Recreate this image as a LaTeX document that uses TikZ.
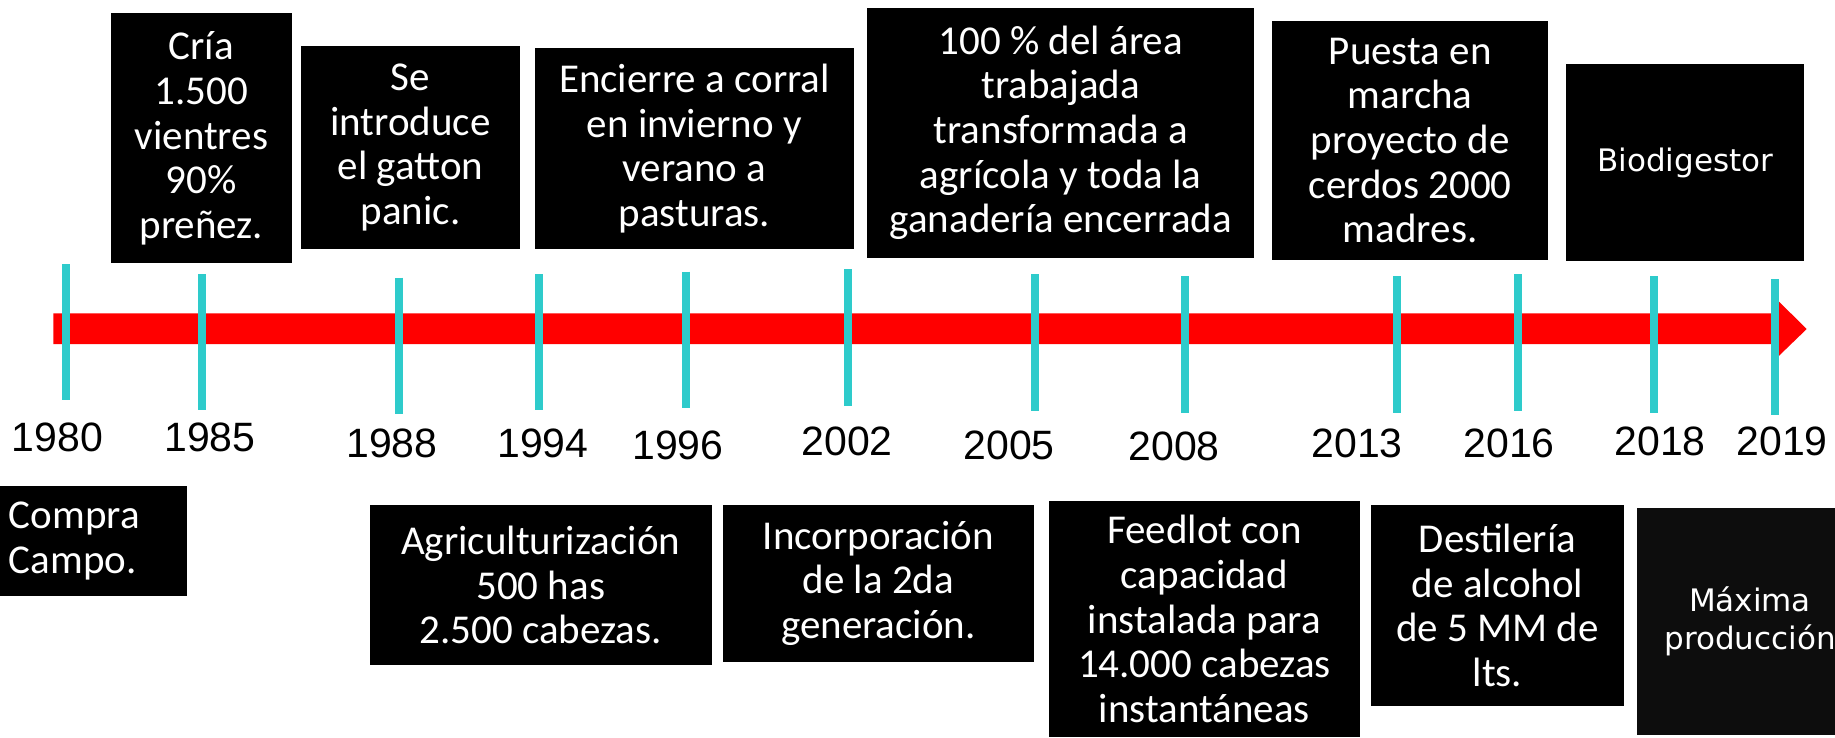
\documentclass[tikz,border=0pt]{standalone}
\usepackage{fontspec}
\setmainfont{Liberation Sans}
\newfontfamily\boxfont{Carlito}
\newfontfamily\verdfont{DejaVu Sans}
\definecolor{tickcyan}{RGB}{46,203,203}
\definecolor{softblack}{RGB}{13,13,13}
\tikzset{
  evbox/.style={fill=black, text=white, align=center, inner sep=0pt, font=\boxfont\fontsize{41}{44.6}\selectfont},
  vbox/.style={evbox, font=\verdfont\fontsize{31}{38}\selectfont},
  yearmark/.style={draw=tickcyan, line width=8pt},
  yearlbl/.style={anchor=base, inner sep=0pt, font=\fontsize{41}{48}\selectfont}
}
\begin{document}
\begin{tikzpicture}[x=1pt,y=-1pt]
\useasboundingbox (0,0) rectangle (1835,737);
\clip (0,0) rectangle (1835,737);
\fill[red] (53.4,313.3) -- (1778,313.3) -- (1778,300.7) -- (1806.7,329) -- (1778,356.7) -- (1778,344) -- (53.4,344) -- cycle;
\foreach \yr/\tx/\ta/\tb/\lx/\ly in {1980/66.4/264/400/57.5/451.7, 1985/202.4/274/410/210/451.7,
    1988/399/277.7/414/392/457.3, 1994/539/274/410/543/457, 1996/685.8/271.7/408/678/459,
    2002/848.3/269/405.7/847/455.7, 2005/1035/274.3/411/1009/459, 2008/1184.8/276/413/1174/460,
    2013/1396.8/276/413/1357/457, 2016/1518/274/411/1509/457, 2018/1654/276/413/1660/455,
    2019/1774.7/279/415/1782/455}{
  \draw[yearmark] (\tx,\ta) -- (\tx,\tb);
  \node[yearlbl] (y\yr) at (\lx,\ly) {\yr};
}
\node[evbox, minimum width=180.8pt, minimum height=250pt] (cria) at (201.4,138.3) {Cría\\1.500\\vientres\\90\%\\preñez.};
\node[evbox, minimum width=219pt, minimum height=202.7pt] (gatton) at (410.5,147.4) {Se\\introduce\\el gatton\\panic.};
\node[evbox, minimum width=318.7pt, minimum height=200.4pt] (corral) at (694.4,148.5) {Encierre a corral\\en invierno y\\verano a\\pasturas.};
\node[evbox, minimum width=386.6pt, minimum height=250.5pt] (area) at (1060.7,132.8) {100 \% del área\\trabajada\\transformada a\\agrícola y toda la\\ganadería encerrada};
\node[evbox, minimum width=275.6pt, minimum height=239pt] (cerdos) at (1410.2,140.5) {Puesta en\\marcha\\proyecto de\\cerdos 2000\\madres.};
\node[vbox, minimum width=237.6pt, minimum height=196.4pt] (biodig) at (1685.2,162.5) {Biodigestor};
\node[evbox, align=left, text width=168.6pt, inner xsep=9pt, minimum height=109.7pt] (campo) at (93.3,540.9) {Compra\\Campo.};
\node[evbox, minimum width=341.7pt, minimum height=159.7pt] (agri) at (540.65,585.15) {Agriculturización\\500 has\\2.500 cabezas.};
\node[evbox, minimum width=311.2pt, minimum height=156.7pt] (incorp) at (878.4,583.35) {Incorporación\\de la 2da\\generación.};
\node[evbox, minimum width=311pt, minimum height=236pt] (feedlot) at (1204.5,619) {Feedlot con\\capacidad\\instalada para\\14.000 cabezas\\instantáneas};
\node[evbox, minimum width=253pt, minimum height=201pt] (destil) at (1497.5,605.5) {Destilería\\de alcohol\\de 5 MM de\\lts.};
\node[vbox, fill=softblack, minimum width=226pt, minimum height=226.7pt] (maxima) at (1750,621.7) {Máxima\\producción};
\end{tikzpicture}
\end{document}
